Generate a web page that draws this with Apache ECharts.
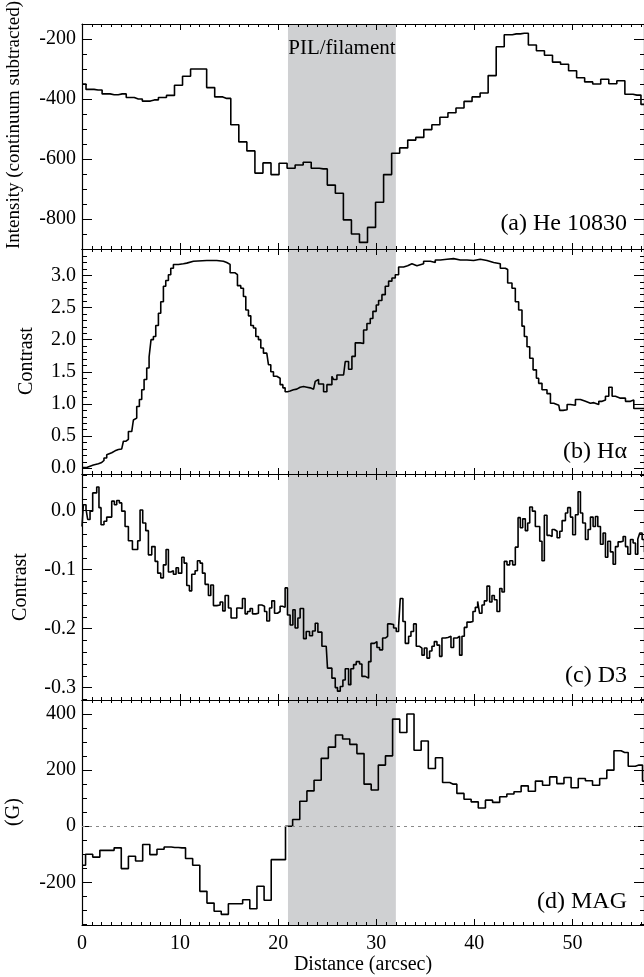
<!DOCTYPE html>
<html>
<head>
<meta charset="utf-8">
<title>PIL/filament profiles</title>
<script src="https://cdn.jsdelivr.net/npm/echarts@6/dist/echarts.min.js"></script>
<style>
  html, body { margin: 0; padding: 0; background: #fff; }
  #main { width: 644px; height: 977px; }
</style>
</head>
<body>
<div id="main"></div>
<script>
// ---- data ----

// x axis (arcsec)
var xMajorTicks = [0, 10, 20, 30, 40, 50];
var pilBand = [21, 32];

// (a) He 10830, bins of 0.82 arcsec, centred at k*dx
var heDx = 0.82;
var heVals = [-350, -368, -370, -383, -386, -383, -395, -400, -407, -403,
  -395, -388, -354, -324, -300, -300, -362, -393, -398, -486,
  -543, -573, -647, -613, -652, -614, -631, -620, -611, -631,
  -633, -687, -714, -803, -850, -878, -828, -744, -652, -581,
  -563, -537, -528, -502, -486, -461, -446, -430, -408, -393,
  -380, -322, -226, -186, -183, -181, -220, -239, -254, -277,
  -284, -306, -329, -343, -350, -334, -349, -339, -384, -387, -418];

// (b) H-alpha contrast, step starts (arcsec) and levels
var haX = [0, 0.48, 0.82, 1.16, 1.33, 1.67, 2.01, 2.24, 2.52, 2.69,
  3.03, 3.37, 3.71, 4.05, 4.22, 4.49, 4.73, 5.07, 5.24, 5.41,
  5.58, 5.85, 6.09, 6.33, 6.60, 6.84, 7.04, 7.28, 7.52, 7.79,
  8.03, 8.30, 8.54, 8.81, 9.05, 9.32, 9.83, 10.34, 10.68, 11.36,
  12.72, 13.74, 14.42, 14.76, 15.10, 15.61, 15.85, 16.19, 16.46, 16.70,
  16.97, 17.21, 17.48, 17.72, 17.99, 18.23, 18.50, 18.84, 19.01, 19.25,
  19.52, 19.86, 20.20, 20.48, 20.71, 20.95, 21.22, 21.56, 21.90, 22.24,
  22.59, 22.93, 23.27, 23.61, 23.78, 23.95, 24.12, 24.63, 24.97, 25.48,
  25.65, 25.99, 26.67, 26.84, 27.18, 27.52, 27.86, 28.37, 28.71, 29.05,
  29.39, 29.66, 30.00, 30.24, 30.58, 30.92, 31.26, 31.60, 31.94, 32.28,
  32.79, 33.20, 33.64, 34.15, 34.83, 35.51, 36.02, 36.53, 37.21, 37.89,
  38.57, 39.25, 39.93, 40.61, 41.29, 41.97, 42.65, 43.16, 43.40, 43.84,
  44.18, 44.52, 44.86, 45.10, 45.37, 45.65, 45.99, 46.33, 46.56, 46.90,
  47.41, 47.76, 48.10, 48.61, 48.71, 49.05, 49.46, 49.80, 50.31, 50.82,
  51.33, 51.84, 52.18, 52.69, 53.03, 53.37, 53.71, 54.05, 54.39, 54.90,
  55.41, 55.92, 56.26, 57.4];
var haY = [0.01, 0.03, 0.05, 0.04, 0.07, 0.09, 0.12, 0.16, 0.21, 0.24,
  0.27, 0.29, 0.30, 0.33, 0.42, 0.45, 0.57, 0.60, 0.75, 0.78,
  0.96, 1.07, 1.22, 1.38, 1.56, 1.73, 2.00, 2.05, 2.22, 2.41,
  2.59, 2.83, 2.92, 3.01, 3.11, 3.17, 3.18, 3.19, 3.22, 3.23,
  3.23, 3.22, 3.20, 3.17, 3.04, 3.01, 2.84, 2.80, 2.67, 2.46,
  2.37, 2.22, 2.18, 2.05, 2.00, 1.87, 1.79, 1.76, 1.61, 1.50,
  1.43, 1.40, 1.30, 1.25, 1.19, 1.20, 1.22, 1.23, 1.26, 1.27,
  1.26, 1.25, 1.23, 1.26, 1.35, 1.38, 1.31, 1.19, 1.30, 1.43,
  1.38, 1.45, 1.48, 1.66, 1.54, 1.74, 1.95, 1.94, 2.15, 2.25,
  2.33, 2.44, 2.54, 2.61, 2.70, 2.83, 2.91, 2.96, 3.01, 3.13,
  3.15, 3.18, 3.15, 3.18, 3.22, 3.20, 3.24, 3.25, 3.26, 3.24,
  3.24, 3.23, 3.25, 3.23, 3.20, 3.18, 3.11, 3.09, 2.88, 2.80,
  2.59, 2.46, 2.21, 2.05, 1.89, 1.71, 1.53, 1.40, 1.32, 1.22,
  1.16, 1.01, 0.98, 0.96, 0.90, 0.91, 0.99, 0.98, 1.07, 1.04,
  1.01, 1.02, 0.99, 1.04, 1.06, 1.12, 1.26, 1.12, 1.09, 1.09,
  1.04, 1.06, 0.93, 0.93];

// (c) D3 contrast, step starts (arcsec) and levels
var d3X = [0, 0.14, 0.41, 0.58, 0.82, 1.09, 1.50, 1.73, 1.94, 2.24,
  2.52, 3.03, 3.30, 3.54, 3.81, 4.05, 4.39, 4.73, 5.14, 5.68,
  5.92, 6.19, 6.50, 6.77, 7.11, 7.45, 7.72, 8.03, 8.30, 8.57,
  8.81, 9.05, 9.32, 9.59, 9.83, 10.17, 10.41, 10.68, 10.95, 11.19,
  11.53, 11.77, 12.04, 12.28, 12.55, 12.89, 13.13, 13.40, 13.74, 14.08,
  14.35, 14.59, 14.93, 15.20, 15.54, 15.78, 16.05, 16.36, 16.63, 16.87,
  17.14, 17.38, 17.72, 17.99, 18.33, 18.61, 18.84, 19.12, 19.35, 19.63,
  19.93, 20.20, 20.44, 20.71, 20.95, 21.22, 21.50, 21.73, 22.01, 22.24,
  22.59, 22.86, 23.20, 23.50, 23.78, 24.05,
  24.46, 24.90, 25.03, 25.48, 25.82, 26.05, 26.33, 26.60, 26.84, 27.18,
  27.41, 27.69, 27.96, 28.30, 28.54, 28.88, 29.22, 29.46, 29.80, 30.07,
  30.34, 30.65, 30.92, 31.16, 31.43, 31.77, 32.04, 32.28, 32.45, 32.72,
  32.96, 33.30, 33.54, 33.81, 34.08, 34.42, 34.66, 34.90, 35.17, 35.44,
  35.68, 35.92, 36.19, 36.46, 36.70, 37.04, 37.31, 37.62, 37.89, 38.23,
  38.50, 38.74, 38.98, 39.25, 39.59, 39.86, 40.10, 40.34, 40.54, 40.78,
  41.02, 41.29, 41.56, 41.80, 42.04, 42.31, 42.59, 42.82, 43.06, 43.33,
  43.61, 43.91, 44.18, 44.46, 44.69, 44.93, 45.20, 45.44, 45.65, 45.92,
  46.22, 46.46, 46.67, 46.90, 47.14, 47.41, 47.69, 47.93, 48.16, 48.44,
  48.71, 48.95, 49.29, 49.52, 49.80, 50.03, 50.31, 50.58, 50.82, 51.05,
  51.33, 51.60, 51.84, 52.11, 52.35, 52.59, 52.86, 53.13, 53.37, 53.61,
  53.88, 54.15, 54.39, 54.66, 54.90, 55.17, 55.41, 55.65, 55.92, 56.19,
  56.43, 56.67, 56.87, 57.11, 57.35, 57.5];
var d3Y = [-0.027, 0.010, 0.002, -0.015, -0.001, 0.030, 0.040, 0.005, -0.024, -0.018,
  -0.011, 0.016, 0.010, 0.017, 0.013, -0.001, -0.027, -0.051, -0.066, -0.051,
  0.001, -0.021, -0.034, -0.075, -0.061, -0.086, -0.106, -0.114, -0.092, -0.066,
  -0.104, -0.102, -0.108, -0.097, -0.106, -0.079, -0.089, -0.127, -0.136, -0.108,
  -0.102, -0.085, -0.089, -0.106, -0.125, -0.144, -0.126, -0.161, -0.160, -0.155,
  -0.170, -0.144, -0.165, -0.182, -0.182, -0.165, -0.166, -0.149, -0.175, -0.171,
  -0.166, -0.175, -0.174, -0.160, -0.162, -0.171, -0.187, -0.165, -0.153, -0.174,
  -0.171, -0.162, -0.164, -0.131, -0.177, -0.194, -0.168, -0.199, -0.182, -0.166,
  -0.217, -0.205, -0.212, -0.204, -0.191, -0.206,
  -0.230, -0.232, -0.267, -0.284, -0.300, -0.306, -0.298, -0.287, -0.268, -0.295,
  -0.268, -0.261, -0.256, -0.260, -0.281, -0.284, -0.256, -0.225, -0.222, -0.232,
  -0.236, -0.216, -0.213, -0.192, -0.193, -0.199, -0.205, -0.196, -0.149, -0.188,
  -0.225, -0.213, -0.205, -0.192, -0.230, -0.233, -0.245, -0.233, -0.250, -0.238,
  -0.230, -0.222, -0.228, -0.247, -0.216, -0.215, -0.213, -0.232, -0.216, -0.213,
  -0.245, -0.213, -0.198, -0.189, -0.188, -0.171, -0.164, -0.154, -0.174, -0.160,
  -0.153, -0.128, -0.155, -0.144, -0.151, -0.171, -0.132, -0.138, -0.086, -0.092,
  -0.085, -0.092, -0.062, -0.012, -0.029, -0.014, -0.034, -0.021, 0.006, -0.001,
  -0.027, -0.027, -0.052, -0.085, -0.008, -0.042, -0.044, -0.032, -0.035, -0.046,
  -0.035, -0.017, -0.004, 0.005, -0.011, -0.041, -0.007, 0.032, -0.004, -0.021,
  -0.049, -0.032, -0.011, -0.027, -0.010, -0.027, -0.057, -0.038, -0.079, -0.052,
  -0.070, -0.091, -0.061, -0.053, -0.052, -0.044, -0.061, -0.074, -0.049, -0.055,
  -0.074, -0.048, -0.038, -0.049, -0.070, -0.070];

// (d) MAG, bins of 0.728 arcsec, centred at k*dx (G)
var magDx = 0.728;
var magVals = [-139, -100, -110, -86, -86, -77, -151, -107, -124, -65,
  -101, -82, -74, -76, -77, -115, -139, -232, -274, -303,
  -314, -276, -276, -262, -294, -214, -264, -119, -119, 0,
  24, 89, 126, 164, 242, 282, 325, 311, 292, 259,
  150, 129, 218, 251, 382, 334, 400, 271, 304, 206,
  244, 156, 150, 117, 96, 87, 65, 93, 85, 105,
  115, 123, 144, 125, 161, 146, 176, 152, 174, 137,
  170, 162, 146, 170, 200, 269, 263, 214, 218, 161];

// y tick labels per panel
var heTicks = [-800, -600, -400, -200];
var haTicks = [0, 0.5, 1.0, 1.5, 2.0, 2.5, 3.0];
var d3Ticks = [-0.3, -0.2, -0.1, 0];
var magTicks = [-200, 0, 200, 400];

// ---- layout ----
var FONT = '"Liberation Serif", "Times New Roman", Times, serif';
var X_MIN = 0, X_MAX = 57.3;
var SHADE = '#cfd0d2';

function stepPairs(xs, ys) {
  var out = [];
  for (var i = 0; i < Math.min(xs.length, ys.length); i++) out.push([xs[i], ys[i]]);
  return out;
}
function binPairs(dx, ys) {
  var out = [];
  for (var i = 0; i < ys.length; i++) out.push([+(i * dx).toFixed(3), ys[i]]);
  return out;
}
// tick values between lo and hi, leaving out the major ones
function ticksBetween(lo, hi, step, skip) {
  var out = [];
  var n0 = Math.ceil(lo / step - 1e-9), n1 = Math.floor(hi / step + 1e-9);
  for (var n = n0; n <= n1; n++) {
    var v = +(n * step).toFixed(6);
    if (skip.indexOf(v) < 0) out.push(v);
  }
  return out;
}

var panels = [
  {top: 24, height: 225, min: -900, max: -150, major: heTicks, minor: 50, dec: -1,
   data: binPairs(heDx, heVals), step: 'middle', tag: '(a) He 10830', tagY: 224},
  {top: 249, height: 225, min: -0.09, max: 3.41, major: haTicks, minor: 0.1, dec: 1,
   data: stepPairs(haX, haY), step: 'end', tag: '(b) H\u03b1', tagY: 452},
  {top: 474, height: 226, min: -0.321, max: 0.062, major: d3Ticks, minor: 0.02, dec: 1,
   data: stepPairs(d3X, d3Y), step: 'end', tag: '(c) D3', tagY: 676},
  {top: 700, height: 225, min: -352, max: 450, major: magTicks, minor: 50, dec: -1,
   data: binPairs(magDx, magVals), step: 'middle', tag: '(d) MAG', tagY: 902}
];

var xMinorTicks = ticksBetween(X_MIN, X_MAX, 1, xMajorTicks);

var grids = [], xAxes = [], yAxes = [], series = [], graphics = [];

function xAxisDef(g, pos, ticks, len, main, labels) {
  return {
    type: 'value', gridIndex: g, position: pos, min: X_MIN, max: X_MAX, z: 4,
    axisLine: {show: main, onZero: false, lineStyle: {color: '#000', width: 1.2}},
    axisTick: {show: true, inside: true, length: len, customValues: ticks,
               lineStyle: {color: '#000', width: 1}},
    axisLabel: labels ? {show: true, customValues: xMajorTicks, margin: 9, color: '#000',
                         fontFamily: FONT, fontSize: 20} : {show: false},
    splitLine: {show: false}
  };
}
function yAxisDef(g, p, pos, ticks, len, main, labels) {
  return {
    type: 'value', gridIndex: g, position: pos, min: p.min, max: p.max, z: 4,
    axisLine: {show: main, onZero: false, lineStyle: {color: '#000', width: 1.2}},
    axisTick: {show: true, inside: true, length: len, customValues: ticks,
               lineStyle: {color: '#000', width: 1}},
    axisLabel: labels ? {
      show: true, customValues: p.major, margin: 6, color: '#000',
      fontFamily: FONT, fontSize: 20,
      formatter: function (v) { return p.dec > 0 ? v.toFixed(p.dec) : String(v); }
    } : {show: false},
    splitLine: {show: false}
  };
}

panels.forEach(function (p, i) {
  grids.push({left: 82, right: 0, top: p.top, height: p.height});

  xAxes.push(xAxisDef(i, 'bottom', xMajorTicks, 6, true, i === panels.length - 1));
  xAxes.push(xAxisDef(i, 'bottom', xMinorTicks, 3, false, false));
  xAxes.push(xAxisDef(i, 'top', xMajorTicks, 6, true, false));
  xAxes.push(xAxisDef(i, 'top', xMinorTicks, 3, false, false));

  var yMinor = ticksBetween(p.min, p.max, p.minor, p.major);
  yAxes.push(yAxisDef(i, p, 'left', p.major, 10, true, true));
  yAxes.push(yAxisDef(i, p, 'left', yMinor, 5, false, false));
  yAxes.push(yAxisDef(i, p, 'right', p.major, 10, true, false));
  yAxes.push(yAxisDef(i, p, 'right', yMinor, 4, false, false));

  var s = {
    type: 'line', xAxisIndex: 4 * i, yAxisIndex: 4 * i,
    data: p.data, step: p.step, symbol: 'none', showSymbol: false,
    lineStyle: {color: '#000', width: 1.6}, z: 3, silent: true,
    markArea: {
      silent: true,
      itemStyle: {color: SHADE},
      label: i === 0 ? {show: true, position: 'insideTop', distance: 14, color: '#000',
                        fontFamily: FONT, fontSize: 21} : {show: false},
      data: [[{name: 'PIL/filament', xAxis: pilBand[0]}, {xAxis: pilBand[1]}]]
    }
  };
  if (i === 3) {
    // zero level
    s.markLine = {
      silent: true, symbol: ['none', 'none'], label: {show: false},
      lineStyle: {color: '#8a8a8a', type: [3, 4], width: 1},
      data: [{yAxis: 0}]
    };
  }
  series.push(s);

  graphics.push({
    type: 'text', right: 17, top: p.tagY - 12,
    style: {text: p.tag, fill: '#000', fontFamily: FONT, fontSize: 24}
  });
});

// axis titles
graphics.push(
  {type: 'text', x: 14, y: 125, rotation: Math.PI / 2,
   style: {text: 'Intensity (continuum subtracted)', fill: '#000', fontFamily: FONT, fontSize: 19,
           align: 'center', verticalAlign: 'middle'}},
  {type: 'text', x: 27, y: 361, rotation: Math.PI / 2,
   style: {text: 'Contrast', fill: '#000', fontFamily: FONT, fontSize: 20,
           align: 'center', verticalAlign: 'middle'}},
  {type: 'text', x: 21, y: 587, rotation: Math.PI / 2,
   style: {text: 'Contrast', fill: '#000', fontFamily: FONT, fontSize: 20,
           align: 'center', verticalAlign: 'middle'}},
  {type: 'text', x: 14, y: 812, rotation: Math.PI / 2,
   style: {text: '(G)', fill: '#000', fontFamily: FONT, fontSize: 20,
           align: 'center', verticalAlign: 'middle'}},
  {type: 'text', x: 363, y: 965,
   style: {text: 'Distance (arcsec)', fill: '#000', fontFamily: FONT, fontSize: 20,
           align: 'center', verticalAlign: 'middle'}}
);

var myChart = echarts.init(document.getElementById('main'), null, {renderer: 'canvas'});
myChart.setOption({
  animation: false,
  backgroundColor: '#fff',
  textStyle: {fontFamily: FONT},
  grid: grids,
  xAxis: xAxes,
  yAxis: yAxes,
  series: series,
  graphic: graphics
});
</script>
</body>
</html>
